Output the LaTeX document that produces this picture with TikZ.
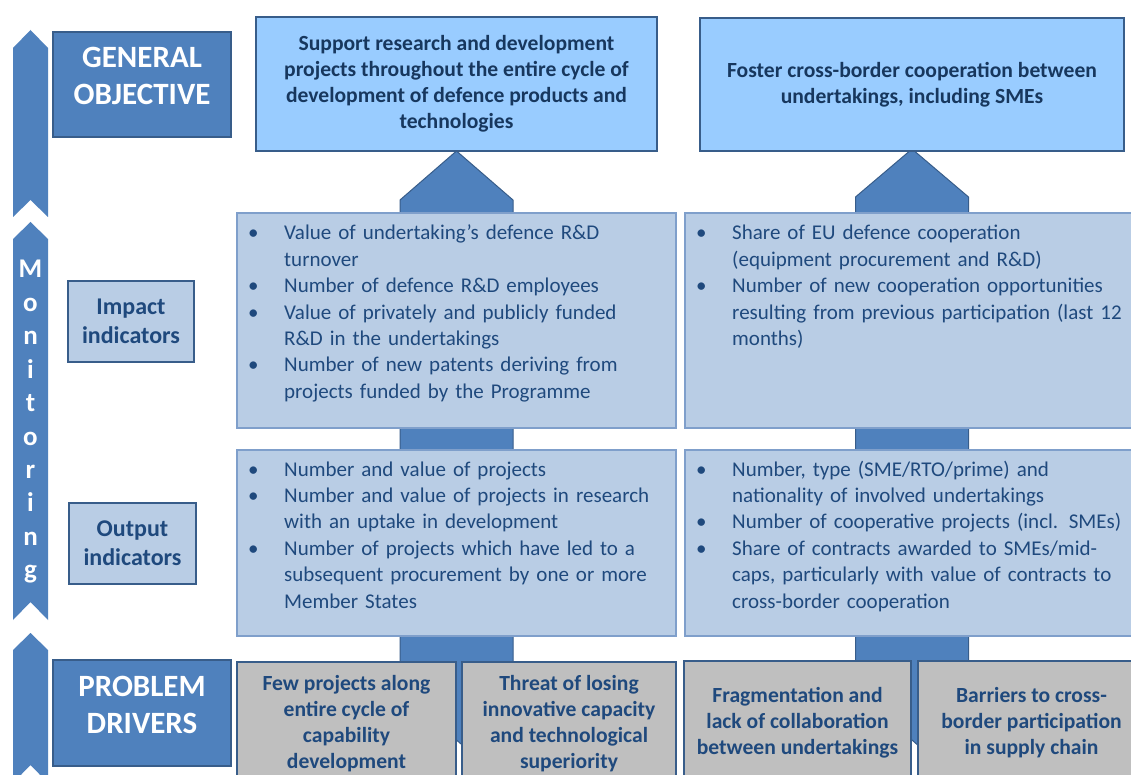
\documentclass[tikz,border=0pt]{standalone}
\usepackage{fontspec}
\setmainfont{Carlito}
\usetikzlibrary{calc}
\definecolor{mainblue}{HTML}{4F81BD}
\definecolor{edgeblue}{HTML}{385D8A}
\definecolor{lightfill}{HTML}{B9CDE5}
\definecolor{lightedge}{HTML}{7F9FCB}
\definecolor{skyfill}{HTML}{99CCFF}
\definecolor{greyfill}{HTML}{BFBFBF}
\definecolor{txtblue}{HTML}{1F497D}
\definecolor{darktxt}{HTML}{17375E}
\newcommand\itm[1]{\hangindent=36pt\hangafter=1\noindent\makebox[36pt][l]{\textbullet}#1\par}
\tikzset{
  box/.style={rectangle, inner sep=0pt, line width=2pt},
  headbox/.style={box, fill=mainblue, draw=edgeblue},
  headtext/.style={inner sep=0pt, text=white, font=\bfseries\fontsize{31}{37}\selectfont, align=center},
  goalbox/.style={box, fill=skyfill, draw=edgeblue, text=darktxt, font=\bfseries\fontsize{21.6}{26}\selectfont, align=center},
  listbox/.style={box, fill=lightfill, draw=lightedge, line width=2.5pt},
  labelbox/.style={box, fill=lightfill, draw=edgeblue, line width=2.5pt, text=txtblue, font=\bfseries\fontsize{24}{29}\selectfont, align=center},
  drvbox/.style={box, fill=greyfill, draw=edgeblue, line width=2.5pt, text=txtblue, font=\bfseries\fontsize{21.6}{26}\selectfont, align=center},
  listtext/.style={inner sep=0pt, anchor=base west, text=txtblue, align=left, font=\fontsize{21}{26.4}\selectfont},
  chev/.style={fill=mainblue, draw=edgeblue, line width=1pt},
  monchev/.style={fill=mainblue, draw=none},
  monletter/.style={inner sep=0pt, anchor=base, text=white, font=\bfseries\fontsize{27}{27}\selectfont}
}
\begin{document}
\begin{tikzpicture}[x=1pt,y=-1pt]
\useasboundingbox (0,0) rectangle (1131,775);
\clip (0,0) rectangle (1131,775);
\fill[white] (0,0) rectangle (1131,775);

% monitoring column
\path[monchev] (13,48) -- (30.5,30) -- (48,48) -- (48,217) -- (30.5,200) -- (13,217) -- cycle;
\path[monchev] (13,239) -- (30.5,222) -- (48,239) -- (48,620) -- (30.5,602) -- (13,620) -- cycle;
\path[monchev] (13,650) -- (30.5,633) -- (48,650) -- (48,783) -- (30.5,765) -- (13,783) -- cycle;
\foreach \l [count=\i from 0] in {M,o,n,i,t,o,r,i,n,g}
  \node[monletter] (mon\i) at (30.5,{278+33.4*\i}) {\l};

% tips of the chevrons at the bottom of the top boxes
\coordinate (tip1) at (456.5,151);
\coordinate (tip2) at (912,149);

% chevron arrows behind the boxes
\path[chev] ($(tip1)+(-56.5,639)$) -- ($(tip1)+(-56.5,49)$) -- (tip1)
  -- ($(tip1)+(56.5,49)$) -- ($(tip1)+(56.5,639)$) -- ($(tip1)+(0,589)$) -- cycle;
\path[chev] ($(tip2)+(-56.5,641)$) -- ($(tip2)+(-56.5,48)$) -- (tip2)
  -- ($(tip2)+(56.5,48)$) -- ($(tip2)+(56.5,641)$) -- ($(tip2)+(0,591)$) -- cycle;

% top boxes
\node[goalbox, minimum width=401pt, minimum height=134pt] (top1) at (456.5,84) {};
\node[inner sep=0pt, text=darktxt, font=\bfseries\fontsize{21.6}{26}\selectfont, align=center] (top1text) at ($(top1.center)+(0,0)$)
  {Support research and development\\projects throughout the entire cycle of\\development of defence products and\\technologies};
\node[goalbox, minimum width=424pt, minimum height=133pt] (top2) at (912,85)
  {Foster cross-border cooperation between\\undertakings, including SMEs};

% left headings
\node[headbox, minimum width=178pt, minimum height=105pt] (go) at (142,84.5) {};
\node[headtext] (gotext) at ($(go.center)+(0,-9)$) {GENERAL\\OBJECTIVE};
\node[labelbox, minimum width=126pt, minimum height=81pt] (imp) at (131,321.5) {Impact\\indicators};
\node[labelbox, minimum width=127pt, minimum height=81pt] (out) at (132.5,543.5) {Output\\indicators};
\node[headbox, minimum width=178pt, minimum height=106pt] (pd) at (142,713) {};
\node[headtext] (pdtext) at ($(pd.center)+(0,-8)$) {PROBLEM\\DRIVERS};

% impact boxes
\node[listbox, minimum width=439pt, minimum height=215pt] (imp1) at (456.5,320.5) {};
\node[listbox, minimum width=460pt, minimum height=215pt] (imp2) at (915,320.5) {};
\node[listtext, text width=425pt] (imp1t) at (248,240) {%
\itm{Value of undertaking's defence R\&D\newline turnover}%
\itm{Number of defence R\&D employees}%
\itm{Value of privately and publicly funded\newline R\&D in the undertakings}%
\itm{Number of new patents deriving from\newline projects funded by the Programme}};
\node[listtext, text width=450pt] (imp2t) at (696,240) {%
\itm{Share of EU defence cooperation\newline (equipment procurement and R\&D)}%
\itm{Number of new cooperation opportunities\newline resulting from previous participation (last 12\newline months)}};

% output boxes
\node[listbox, minimum width=439pt, minimum height=186pt] (out1) at (456.5,543) {};
\node[listbox, minimum width=460pt, minimum height=186pt] (out2) at (915,543) {};
\node[listtext, text width=425pt] (out1t) at (248,476) {%
\itm{Number and value of projects}%
\itm{Number and value of projects in research\newline with an uptake in development}%
\itm{Number of projects which have led to a\newline subsequent procurement by one or more\newline Member States}};
\node[listtext, text width=450pt] (out2t) at (696,476) {%
\itm{Number, type (SME/RTO/prime) and\newline nationality of involved undertakings}%
\itm{Number of cooperative projects (incl. SMEs)}%
\itm{Share of contracts awarded to SMEs/mid-\newline caps, particularly with value of contracts to\newline cross-border cooperation}};

% problem drivers
\node[drvbox, minimum width=219pt, minimum height=124pt] (d1) at (346.5,724) {Few projects along\\entire cycle of\\capability\\development};
\node[drvbox, minimum width=214pt, minimum height=124pt] (d2) at (569,724) {Threat of losing\\innovative capacity\\and technological\\superiority};
\node[drvbox, minimum width=227pt, minimum height=124pt] (d3) at (797.5,723) {Fragmentation and\\lack of collaboration\\between undertakings};
\node[drvbox, minimum width=227pt, minimum height=124pt] (d4) at (1031.5,723) {Barriers to cross-\\border participation\\in supply chain};
\end{tikzpicture}
\end{document}
